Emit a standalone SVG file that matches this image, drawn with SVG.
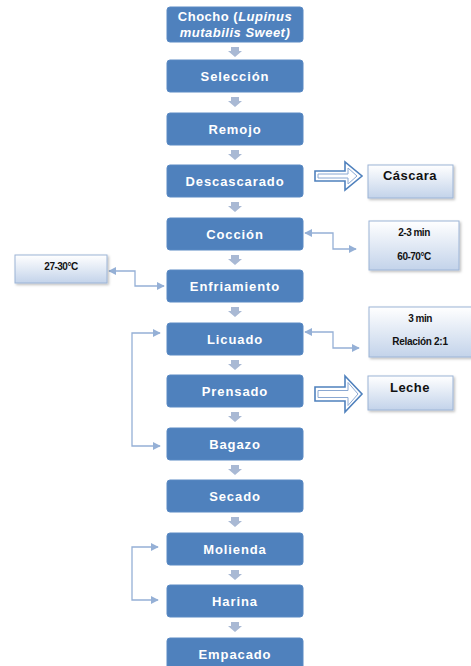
<svg xmlns="http://www.w3.org/2000/svg" width="471" height="666" viewBox="0 0 471 666">
<defs>
<style>
.box{fill:#4f81bd;stroke:#5b8ac4;stroke-width:1}
.t{font-family:"Liberation Sans",Arial,sans-serif;font-weight:bold;font-size:13px;fill:#fff;text-anchor:middle;letter-spacing:0.9px}
.side{fill:url(#g);stroke:#9cb4d6;stroke-width:1}
.st{font-family:"Liberation Sans",Arial,sans-serif;font-weight:bold;fill:#111;text-anchor:middle}
.conn{fill:none;stroke:#95b0d6;stroke-width:1.3}
.da{fill:#a9b9d4}
.hollow{fill:#fff;stroke:#4f81bd;stroke-width:1.6}
.hollow2{fill:#fff;stroke:#8aa8d2;stroke-width:1}
</style>
<linearGradient id="g" x1="0" y1="0" x2="0" y2="1">
<stop offset="0" stop-color="#ffffff"/>
<stop offset="1" stop-color="#c3d3ea"/>
</linearGradient>
<filter id="sh" x="-10%" y="-10%" width="130%" height="140%">
<feDropShadow dx="1.5" dy="1.5" stdDeviation="1" flood-color="#000" flood-opacity="0.25"/>
</filter>
<marker id="ah" viewBox="0 0 10 10" refX="9" refY="5" markerWidth="8" markerHeight="8" orient="auto-start-reverse" markerUnits="userSpaceOnUse">
<path d="M0,0 L10,5 L0,10 z" fill="#95b0d6"/>
</marker>
<path id="dn" d="M231,0 h8 v4 h3 l-7,6 l-7,-6 h3 z"/>
</defs>
<rect width="471" height="666" fill="#fff"/>

<g id="downarrows" class="da">
<use href="#dn" y="47"/>
<use href="#dn" y="97"/>
<use href="#dn" y="150"/>
<use href="#dn" y="202"/>
<use href="#dn" y="255"/>
<use href="#dn" y="307"/>
<use href="#dn" y="360"/>
<use href="#dn" y="412"/>
<use href="#dn" y="465"/>
<use href="#dn" y="517"/>
<use href="#dn" y="570"/>
<use href="#dn" y="622"/>
</g>

<g id="connectors">
<polyline class="conn" points="305,233 333,233 333,249 356,249" marker-start="url(#ah)" marker-end="url(#ah)"/>
<polyline class="conn" points="109,271 135,271 135,286 164,286" marker-start="url(#ah)" marker-end="url(#ah)"/>
<polyline class="conn" points="305,332 333,332 333,348 359,348" marker-start="url(#ah)" marker-end="url(#ah)"/>
<polyline class="conn" points="160,333 132,333 132,446 160,446" marker-start="url(#ah)" marker-end="url(#ah)"/>
<polyline class="conn" points="158,547 132,547 132,600 158,600" marker-start="url(#ah)" marker-end="url(#ah)"/>
<g transform="translate(315,176)">
<path class="hollow" d="M0,-5 h30 v-9 l17,14 l-17,14 v-9 h-30 z"/>
<path class="hollow2" d="M3,-2 h30 v-6 l9,8 l-9,8 v-6 h-30 z"/>
</g>
<g transform="translate(315,394)">
<path class="hollow" d="M0,-7 h30 v-11 l17,18 l-17,18 v-11 h-30 z"/>
<path class="hollow2" d="M3,-3.5 h30 v-8 l10,11.5 l-10,11.5 v-8 h-30 z"/>
</g>
</g>

<g id="n1"><rect class="box" x="167" y="7" width="136" height="35" rx="3"/>
<text class="t" x="235" y="21" style="letter-spacing:0.5px">Chocho (<tspan font-style="italic">Lupinus</tspan></text>
<text class="t" x="235" y="37" font-style="italic" style="letter-spacing:0.5px">mutabilis Sweet)</text></g>
<g id="n2"><rect class="box" x="167" y="60" width="136" height="32" rx="3"/><text class="t" x="235" y="81">Selección</text></g>
<g id="n3"><rect class="box" x="167" y="113" width="136" height="32" rx="3"/><text class="t" x="235" y="134">Remojo</text></g>
<g id="n4"><rect class="box" x="167" y="165" width="136" height="32" rx="3"/><text class="t" x="235" y="186">Descascarado</text></g>
<g id="n5"><rect class="box" x="167" y="218" width="136" height="32" rx="3"/><text class="t" x="235" y="239">Cocción</text></g>
<g id="n6"><rect class="box" x="167" y="270" width="136" height="32" rx="3"/><text class="t" x="235" y="291">Enfriamiento</text></g>
<g id="n7"><rect class="box" x="167" y="323" width="136" height="32" rx="3"/><text class="t" x="235" y="344">Licuado</text></g>
<g id="n8"><rect class="box" x="167" y="375" width="136" height="32" rx="3"/><text class="t" x="235" y="396">Prensado</text></g>
<g id="n9"><rect class="box" x="167" y="428" width="136" height="32" rx="3"/><text class="t" x="235" y="449">Bagazo</text></g>
<g id="n10"><rect class="box" x="167" y="480" width="136" height="32" rx="3"/><text class="t" x="235" y="501">Secado</text></g>
<g id="n11"><rect class="box" x="167" y="533" width="136" height="32" rx="3"/><text class="t" x="235" y="554">Molienda</text></g>
<g id="n12"><rect class="box" x="167" y="585" width="136" height="32" rx="3"/><text class="t" x="235" y="606">Harina</text></g>
<g id="n13"><rect class="box" x="167" y="638" width="136" height="32" rx="3"/><text class="t" x="235" y="659">Empacado</text></g>

<g id="cascara"><rect class="side" filter="url(#sh)" x="368" y="165" width="85" height="33"/><text class="st" x="410" y="180" font-size="13" letter-spacing="0.5">Cáscara</text></g>
<g id="coccion-cond"><rect class="side" filter="url(#sh)" x="369" y="221" width="90" height="49"/>
<text class="st" x="414" y="236" font-size="10" letter-spacing="-0.5">2-3 min</text>
<text class="st" x="414" y="260" font-size="10" letter-spacing="-0.5">60-70°C</text></g>
<g id="temp"><rect class="side" filter="url(#sh)" x="15" y="255" width="92" height="28"/><text class="st" x="61" y="270" font-size="10" letter-spacing="-0.5">27-30°C</text></g>
<g id="licuado-cond"><rect class="side" filter="url(#sh)" x="369" y="307" width="105" height="50"/>
<text class="st" x="420" y="322" font-size="10" letter-spacing="-0.5">3 min</text>
<text class="st" x="420" y="345" font-size="10" letter-spacing="-0.3">Relación 2:1</text></g>
<g id="leche"><rect class="side" filter="url(#sh)" x="368" y="376" width="85" height="34"/><text class="st" x="410" y="392" font-size="13" letter-spacing="0.5">Leche</text></g>
</svg>
